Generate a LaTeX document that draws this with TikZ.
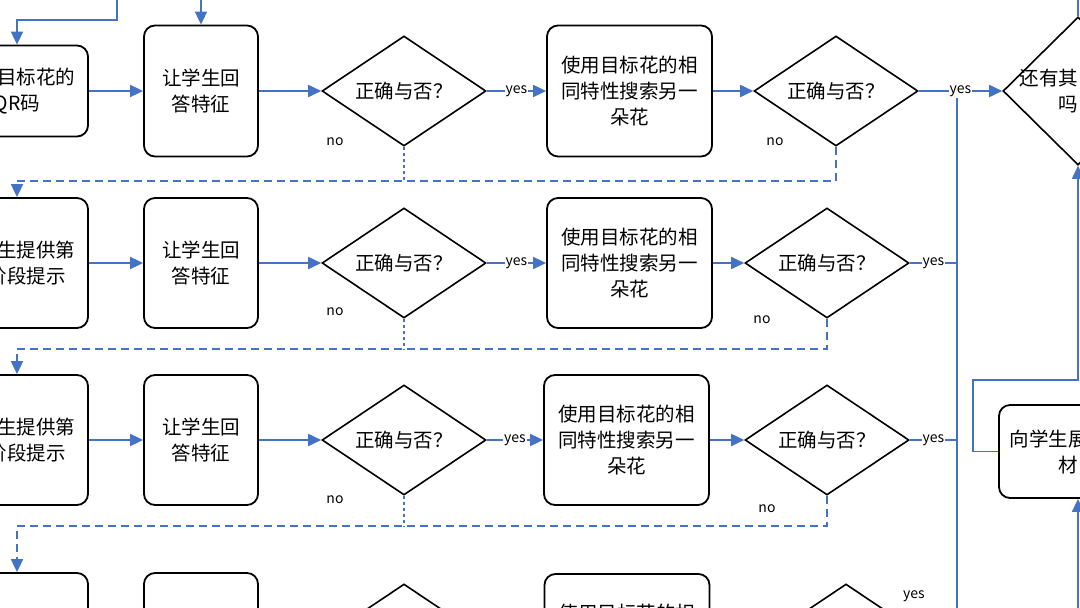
\documentclass[tikz,border=0pt]{standalone}
\usepackage{fontspec}
\setmainfont{Noto Sans CJK SC}
\usetikzlibrary{arrows.meta,shapes.geometric}
\definecolor{lineblue}{RGB}{68,114,196}
\tikzset{
  box/.style={draw=black, line width=1.8pt, rounded corners=11pt, fill=white,
    font=\fontsize{19.5}{26}\selectfont, align=center, inner sep=0pt},
  dec/.style={draw=black, line width=1.6pt, diamond, aspect=1.5, fill=white,
    minimum width=164pt, minimum height=110pt, inner sep=0pt,
    font=\fontsize{19.5}{26}\selectfont, align=center},
  link/.style={draw=lineblue, line width=1.8pt},
  flow/.style={link, -{Triangle[length=13pt,width=12pt]}},
  noflow/.style={flow, dash pattern=on 8pt off 5pt},
  noline/.style={link, dash pattern=on 3pt off 3pt},
  lbl/.style={font=\fontsize{14}{16}\selectfont, inner sep=1pt},
  yeslbl/.style={lbl, fill=white},
}
\begin{document}
\begin{tikzpicture}[x=1pt,y=-1pt]
\useasboundingbox (0,0) rectangle (1080,608);
\clip (0,0) rectangle (1080,608);
% ---------- row 1
\node[box, minimum width=142pt, minimum height=91pt] (A1) at (17,91) {\hphantom{扫描}目标花的\\QR码};
\node[box, minimum width=114pt, minimum height=131pt] (B1) at (201,91) {让学生回\\答特征};
\node[dec] (D1) at (404,91) {正确与否？};
\node[box, minimum width=165pt, minimum height=131pt] (C1) at (629.5,91) {使用目标花的相\\同特性搜索另一\\朵花};
\node[dec] (E1) at (836,91) {正确与否？};
\node[dec, minimum width=150pt, minimum height=148pt, inner sep=-25pt] (F) at (1078,91) {还有其\hphantom{他的花}\\吗\hphantom{？}};
% ---------- row 2
\node[box, minimum width=142pt, minimum height=130pt] (A2) at (17,263) {\hphantom{向学}生提供第\\\hphantom{一}阶段提示};
\node[box, minimum width=114pt, minimum height=130pt] (B2) at (201,263) {让学生回\\答特征};
\node[dec] (D2) at (404,263) {正确与否？};
\node[box, minimum width=165pt, minimum height=130pt] (C2) at (629.5,263) {使用目标花的相\\同特性搜索另一\\朵花};
\node[dec] (E2) at (827,263) {正确与否？};
% ---------- row 3
\node[box, minimum width=142pt, minimum height=130pt] (A3) at (17,440) {\hphantom{向学}生提供第\\\hphantom{二}阶段提示};
\node[box, minimum width=114pt, minimum height=130pt] (B3) at (201,440) {让学生回\\答特征};
\node[dec] (D3) at (404,440) {正确与否？};
\node[box, minimum width=165pt, minimum height=130pt] (C3) at (626.5,440) {使用目标花的相\\同特性搜索另一\\朵花};
\node[dec] (E3) at (827,440) {正确与否？};
% ---------- row 4
\node[box, minimum width=142pt, minimum height=130pt] (A4) at (17,638) {};
\node[box, minimum width=114pt, minimum height=130pt] (B4) at (201,638) {};
\node[dec] (D4) at (404,639) {};
\node[box, minimum width=165pt, minimum height=130pt] (C4) at (627,639) {使用目标花的相\\\phantom{同特性搜索另一}\\\phantom{朵花}};
\node[dec] (E4) at (846,639) {};
% ---------- right box
\node[box, minimum width=158pt, minimum height=93pt] (G) at (1078,451.5) {向学生展\hphantom{示学习}\\材\hphantom{料}};
% ---------- helper coordinates
\coordinate (J) at (957,91);
\coordinate (T1) at (117,-5);
\coordinate (T2) at (201,-5);
\coordinate (T3) at (1078,-5);
\coordinate (B5) at (1078,625);
\coordinate (R1) at (17,181);
\coordinate (R2) at (17,349);
\coordinate (R3) at (17,526);
% ---------- incoming from above
\draw[flow] (T1) -- (117,20) -| (A1.north);
\draw[flow] (T2) -- (B1.north);
\draw[link] (F.north) -- (T3);
% ---------- main rows
\foreach \r in {1,2,3,4}{
  \draw[flow] (A\r.east) -- (B\r.west);
  \draw[flow] (B\r.east) -- (D\r.west);
  \draw[flow] (C\r.east) -- (E\r.west);
}
\draw[flow] (D4.east) -- (C4.west);
\draw[flow] (D1.east) -- node[yeslbl] {yes} (C1.west);
\draw[flow] (D2.east) -- node[yeslbl] {yes} (C2.west);
\draw[flow] (D3.east) -- node[yeslbl] {yes} (C3.west);
% yes spine
\draw[link] (E4.east) -| (J);
\draw[link] (E2.east) -- node[yeslbl] {yes} (E2.east -| J);
\draw[link] (E3.east) -- node[yeslbl] {yes} (E3.east -| J);
\draw[flow] (E1.east) -- node[yeslbl] {yes} (F.west);
\node[lbl] (y4) at (914,596) {yes};
% no branches
\draw[noline] (D1.south) -- (D1.south |- R1);
\draw[noflow] (E1.south) -- (E1.south |- R1) -- (R1) -- (A2.north);
\draw[noline] (D2.south) -- (D2.south |- R2);
\draw[noflow] (E2.south) -- (E2.south |- R2) -- (R2) -- (A3.north);
\draw[noline] (D3.south) -- (D3.south |- R3);
\draw[noflow] (E3.south) -- (E3.south |- R3) -- (R3) -- (A4.north);
\node[lbl] (n1) at (335,142) {no};
\node[lbl] (n2) at (335,312) {no};
\node[lbl] (n3) at (335,500) {no};
\node[lbl] (n4) at (775,142) {no};
\node[lbl] (n5) at (762,320) {no};
\node[lbl] (n6) at (767,509) {no};
% right side
\draw[flow] (G.west) -- ++(-25,0) |- (F.south |- 0,380) -- (F.south);
\draw[flow] (B5) -- (G.south);
\end{tikzpicture}
\end{document}
